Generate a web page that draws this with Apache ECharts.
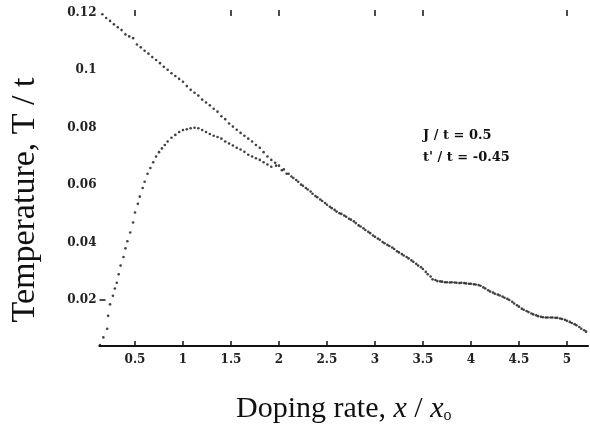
<!DOCTYPE html>
<html>
<head>
<meta charset="utf-8">
<script src="https://cdn.jsdelivr.net/npm/echarts@6/dist/echarts.min.js"></script>
<style>
html,body{margin:0;padding:0;background:#fff;}
#chart{width:590px;height:429px;}
</style>
</head>
<body>
<div id="chart"></div>
<script>
// Tick labels
const xTickValues = [0.5, 1, 1.5, 2, 2.5, 3, 3.5, 4, 4.5, 5];
const xTopTickValues = [0.5, 1.5, 2, 3, 3.5, 5];
const yTickValues = [0.02, 0.04, 0.06, 0.08, 0.1, 0.12];
const yTickMarks = [0.02];

// Upper branch (x, T/t)
const upperX = [0.12,0.16,0.20,0.24,0.28,0.32,0.36,0.40,0.44,0.48,0.52,0.56,0.60,0.64,0.68,0.72,0.76,0.80,0.84,0.88,0.92,0.96,1.00,1.04,1.08,1.12,1.16,1.20,1.24,1.28,1.32,1.36,1.40,1.44,1.48,1.52,1.56,1.60,1.64,1.68,1.72,1.76,1.80,1.84,1.88,1.92,1.96,2.00,2.05,2.10,2.15,2.20,2.25,2.30,2.35,2.40,2.45,2.50,2.55,2.60,2.65,2.70,2.75,2.80,2.85,2.90,2.95,3.00,3.05,3.10,3.15,3.20,3.25,3.30,3.35,3.40,3.45,3.50,3.55,3.60,3.65,3.70,3.75,3.80,3.85,3.90,3.95,4.00,4.05,4.10,4.15,4.20,4.25,4.30,4.35,4.40,4.45,4.50,4.55,4.60,4.65,4.70,4.75,4.80,4.85,4.90,4.95,5.00,5.05,5.10,5.15,5.20];
const upperY = [0.1205,0.1195,0.1182,0.1172,0.1160,0.1150,0.1140,0.1125,0.1118,0.1112,0.1090,0.1080,0.1068,0.1058,0.1046,0.1036,0.1025,0.1012,0.1002,0.0990,0.0980,0.0970,0.0960,0.0945,0.0932,0.0922,0.0912,0.0898,0.0888,0.0878,0.0866,0.0856,0.0840,0.0830,0.0815,0.0804,0.0793,0.0782,0.0772,0.0762,0.0752,0.0740,0.0730,0.0715,0.0700,0.0688,0.0678,0.0668,0.0655,0.0640,0.0625,0.0612,0.0598,0.0585,0.0570,0.0558,0.0545,0.0532,0.0520,0.0508,0.0500,0.0490,0.0480,0.0468,0.0456,0.0444,0.0433,0.0420,0.0410,0.0398,0.0388,0.0378,0.0366,0.0355,0.0345,0.0333,0.0320,0.0308,0.0290,0.0272,0.0266,0.0264,0.0262,0.0262,0.0260,0.0260,0.0258,0.0257,0.0254,0.0250,0.0240,0.0230,0.0222,0.0216,0.0208,0.0200,0.0188,0.0177,0.0166,0.0158,0.0150,0.0144,0.0140,0.0139,0.0139,0.0138,0.0134,0.0128,0.0120,0.0112,0.0100,0.0090];

// Lower branch (x, T/t)
const lowerX = [0.135,0.17,0.21,0.22,0.24,0.27,0.29,0.31,0.33,0.35,0.38,0.40,0.42,0.45,0.48,0.50,0.53,0.55,0.58,0.60,0.63,0.66,0.69,0.72,0.75,0.78,0.81,0.84,0.88,0.92,0.96,1.00,1.04,1.08,1.12,1.16,1.20,1.24,1.28,1.32,1.36,1.40,1.44,1.48,1.52,1.56,1.60,1.64,1.68,1.72,1.76,1.80,1.84,1.88,1.92,1.97,2.03,2.08,2.13,2.18,2.23,2.28,2.33,2.38,2.43,2.48,2.53,2.58,2.63,2.68,2.73,2.78,2.83,2.88,2.93,2.98,3.03,3.08,3.13,3.18,3.23,3.28,3.33,3.38,3.43,3.48,3.53,3.58,3.63,3.68,3.73,3.78,3.83,3.88,3.93,3.98,4.03,4.08,4.13,4.18,4.23,4.28,4.33,4.38,4.43,4.48,4.53,4.58,4.63,4.68,4.73,4.78,4.83,4.88,4.93,4.98,5.03,5.08,5.13,5.18];
const lowerY = [0.0043,0.0070,0.0100,0.0145,0.0185,0.0215,0.0240,0.0260,0.0290,0.0320,0.0350,0.0380,0.0405,0.0435,0.0470,0.0505,0.0535,0.0560,0.0590,0.0612,0.0640,0.0660,0.0680,0.0700,0.0715,0.0728,0.0740,0.0752,0.0765,0.0775,0.0785,0.0792,0.0795,0.0798,0.0800,0.0798,0.0792,0.0785,0.0778,0.0772,0.0768,0.0762,0.0752,0.0745,0.0738,0.0730,0.0724,0.0716,0.0706,0.0700,0.0694,0.0688,0.0680,0.0672,0.0664,0.0668,0.0652,0.0640,0.0630,0.0618,0.0602,0.0590,0.0578,0.0562,0.0550,0.0538,0.0525,0.0514,0.0502,0.0494,0.0483,0.0474,0.0460,0.0450,0.0438,0.0425,0.0414,0.0402,0.0392,0.0383,0.0370,0.0360,0.0350,0.0338,0.0326,0.0314,0.0298,0.0282,0.0270,0.0265,0.0262,0.0261,0.0261,0.0259,0.0259,0.0257,0.0255,0.0252,0.0244,0.0234,0.0226,0.0219,0.0212,0.0204,0.0194,0.0182,0.0170,0.0162,0.0153,0.0147,0.0142,0.0139,0.0139,0.0138,0.0136,0.0131,0.0124,0.0116,0.0106,0.0095];

const annotation1 = 'J / t = 0.5';
const annotation2 = "t' / t = -0.45";
const yTitle = 'Temperature, T / t';

const zip = (xs, ys) => xs.map((x, i) => [x, ys[i]]);

const chart = echarts.init(document.getElementById('chart'), null, {renderer: 'canvas'});
const labelFont = {fontFamily: 'DejaVu Serif', fontWeight: 'bold', fontSize: 12, color: '#222'};

chart.setOption({
  animation: false,
  backgroundColor: '#fff',
  grid: {left: 99.5, right: 2, top: 10, bottom: 75, containLabel: false},
  xAxis: [{
    type: 'value', position: 'bottom', min: 0.13, max: 5.22,
    axisLine: {show: true, onZero: false, lineStyle: {color: '#111', width: 2}},
    axisTick: {show: true, inside: true, length: 5, customValues: xTickValues, lineStyle: {color: '#111', width: 1.5}},
    axisLabel: Object.assign({margin: 8, customValues: xTickValues, formatter: v => String(v)}, labelFont),
    splitLine: {show: false},
    name: 'Doping rate, {i|x} / {i|x}{s|o}', nameLocation: 'middle', nameGap: 48,
    nameTextStyle: {fontFamily: 'Liberation Serif', fontSize: 30, color: '#111',
      rich: {i: {fontFamily: 'Liberation Serif', fontStyle: 'italic', fontSize: 30, color: '#111'},
             s: {fontFamily: 'Liberation Serif', fontSize: 16, color: '#111', verticalAlign: 'bottom'}}}
  }, {
    type: 'value', position: 'top', min: 0.13, max: 5.22,
    axisLine: {show: false},
    axisTick: {show: true, inside: true, length: 6, customValues: xTopTickValues, lineStyle: {color: '#111', width: 1.5}},
    axisLabel: {show: false},
    splitLine: {show: false}
  }],
  yAxis: [{
    type: 'value', min: 0.004, max: 0.121,
    axisLine: {show: false},
    axisTick: {show: true, inside: true, length: 6, customValues: yTickMarks, lineStyle: {color: '#111', width: 1.5}},
    axisLabel: Object.assign({margin: 3, customValues: yTickValues, formatter: v => String(v)}, labelFont),
    splitLine: {show: false}
  }],
  series: [{
    type: 'scatter', data: zip(upperX, upperY), symbol: 'circle', symbolSize: 2.6,
    itemStyle: {color: '#111'}, silent: true
  }, {
    type: 'scatter', data: zip(lowerX, lowerY), symbol: 'circle', symbolSize: 2.6,
    itemStyle: {color: '#111'}, silent: true
  }],
  graphic: [{
    type: 'text', x: 25, y: 200, rotation: Math.PI / 2,
    style: {text: yTitle, font: '34px "Liberation Serif"', fill: '#111', align: 'center', verticalAlign: 'middle'}
  }, {
    type: 'text', left: 423, top: 129,
    style: {text: annotation1, font: 'bold 13px "DejaVu Serif"', fill: '#111'}
  }, {
    type: 'text', left: 423, top: 151,
    style: {text: annotation2, font: 'bold 13px "DejaVu Serif"', fill: '#111'}
  }]
});
</script>
</body>
</html>
